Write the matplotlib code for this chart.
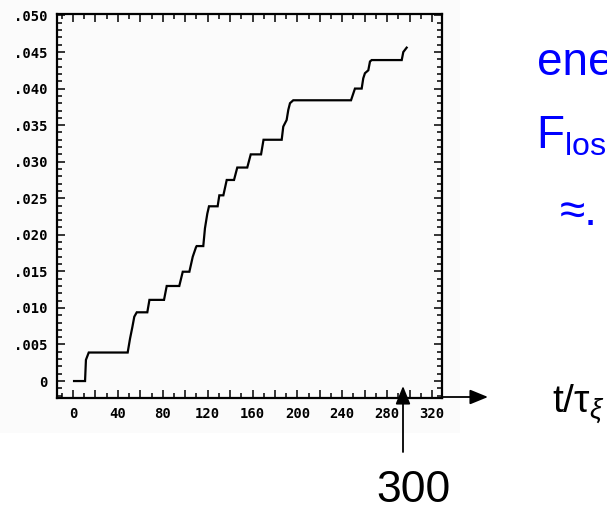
import matplotlib
matplotlib.use("Agg")
import matplotlib.pyplot as plt
from matplotlib.ticker import MultipleLocator, FuncFormatter
from matplotlib.patches import Rectangle

# cumulative energy loss fraction versus time (in units of tau_xi)
t = [0.9, 10.7, 11.5, 14.0, 48.7, 50.8, 52.9, 54.6, 56.8, 66.2, 68.1, 81.1, 83.5,
     94.7, 97.8, 103.7, 106.7, 109.6, 110.2, 116.1, 117.6, 119.7, 121.2, 128.9,
     130.4, 134.0, 137.0, 143.5, 146.4, 155.3, 158.4, 167.6, 169.8, 186.0, 187.4,
     190.4, 191.9, 193.4, 196.3, 247.8, 251.3, 257.3, 258.7, 260.2, 263.2, 264.7,
     266.2, 293.0, 294.4, 297.4]
f_loss = [0.0, 0.0, 0.0029, 0.0039, 0.0039, 0.0058, 0.0074, 0.0088, 0.0094, 0.0094,
          0.0111, 0.0111, 0.0130, 0.0130, 0.01495, 0.01495, 0.0170, 0.0183, 0.01846,
          0.01846, 0.0209, 0.0229, 0.0239, 0.0239, 0.0254, 0.0254, 0.0275, 0.0275,
          0.0292, 0.0292, 0.0310, 0.0310, 0.0330, 0.0330, 0.0348, 0.0357, 0.0371,
          0.0380, 0.0384, 0.0384, 0.0400, 0.0400, 0.0414, 0.0421, 0.0425, 0.0437,
          0.0439, 0.0439, 0.0450, 0.0456]

W, H = 607, 511
fig = plt.figure(figsize=(W / 100, H / 100), dpi=100)
fig.patch.set_facecolor("white")

# light panel behind the plot
fig.patches.append(Rectangle((0, (H - 433) / H), 460 / W, 433 / H,
                             transform=fig.transFigure, facecolor="#fbfbfb",
                             edgecolor="none", zorder=-10))

L, R, T, B = 57, 442, 14, 398
ax = fig.add_axes([L / W, (H - B) / H, (R - L) / W, (B - T) / H])
ax.set_facecolor("none")
ax.set_zorder(1)

ax.plot(t, f_loss, color="black", lw=1.6, solid_joinstyle="miter")

ax.set_xlim(-14.3, 328.9)
ax.set_ylim(-0.00232, 0.0502)

ax.xaxis.set_major_locator(MultipleLocator(20))
ax.xaxis.set_minor_locator(MultipleLocator(10))
ax.yaxis.set_major_locator(MultipleLocator(0.005))
ax.yaxis.set_minor_locator(MultipleLocator(0.001))

ax.xaxis.set_major_formatter(FuncFormatter(
    lambda v, p: f"{int(round(v))}" if round(v) % 40 == 0 else ""))
ax.yaxis.set_major_formatter(FuncFormatter(
    lambda v, p: "0" if abs(v) < 1e-9 else f"{v:.3f}".lstrip("0")))

for s in ax.spines.values():
    s.set_linewidth(1.6)
ax.tick_params(which="both", direction="in", top=True, right=True, width=1.1,
               color="black")
ax.tick_params(which="major", length=6, pad=6.5)
ax.tick_params(which="minor", length=3.5)
for lab in ax.get_xticklabels() + ax.get_yticklabels():
    lab.set_fontfamily("DejaVu Sans Mono")
    lab.set_fontweight("bold")
    lab.set_fontsize(10)

# annotations outside the plot
def fx(x):
    return x / W

def fy(y):
    return 1 - y / H

arrow_style = dict(arrowstyle="-|>,head_length=1.1,head_width=0.45",
                   color="black", lw=1.3, shrinkA=0, shrinkB=0)
fig.add_artist(plt.Annotation("", xy=(fx(488), fy(397)), xytext=(fx(442), fy(397)),
                              xycoords="figure fraction", textcoords="figure fraction",
                              arrowprops=arrow_style))
fig.add_artist(plt.Annotation("", xy=(fx(403), fy(386)), xytext=(fx(403), fy(452)),
                              xycoords="figure fraction", textcoords="figure fraction",
                              arrowprops=arrow_style))

plt.rcParams["mathtext.fontset"] = "custom"
plt.rcParams["mathtext.rm"] = "Liberation Sans"
plt.rcParams["mathtext.it"] = "Liberation Sans:italic"

blue = "#0000ff"
fig.text(fx(537), fy(75), "ene", color=blue, fontsize=33,
         family="Liberation Sans", va="baseline", ha="left")
fig.text(fx(536), fy(148), r"F$_{\mathregular{los}}$", color=blue, fontsize=33,
         family="Liberation Sans", va="baseline", ha="left")
fig.text(fx(560), fy(225), "≈.", color=blue, fontsize=33,
         family="Liberation Sans", va="baseline", ha="left")
fig.text(fx(552), fy(412), r"t/$\mathregular{\tau}_{\xi}$", color="black", fontsize=28,
         family="Liberation Sans", va="baseline", ha="left")
fig.text(fx(413), fy(502), "300", color="black", fontsize=32,
         family="Liberation Sans", va="baseline", ha="center")

fig.savefig("out.png", dpi=100)
